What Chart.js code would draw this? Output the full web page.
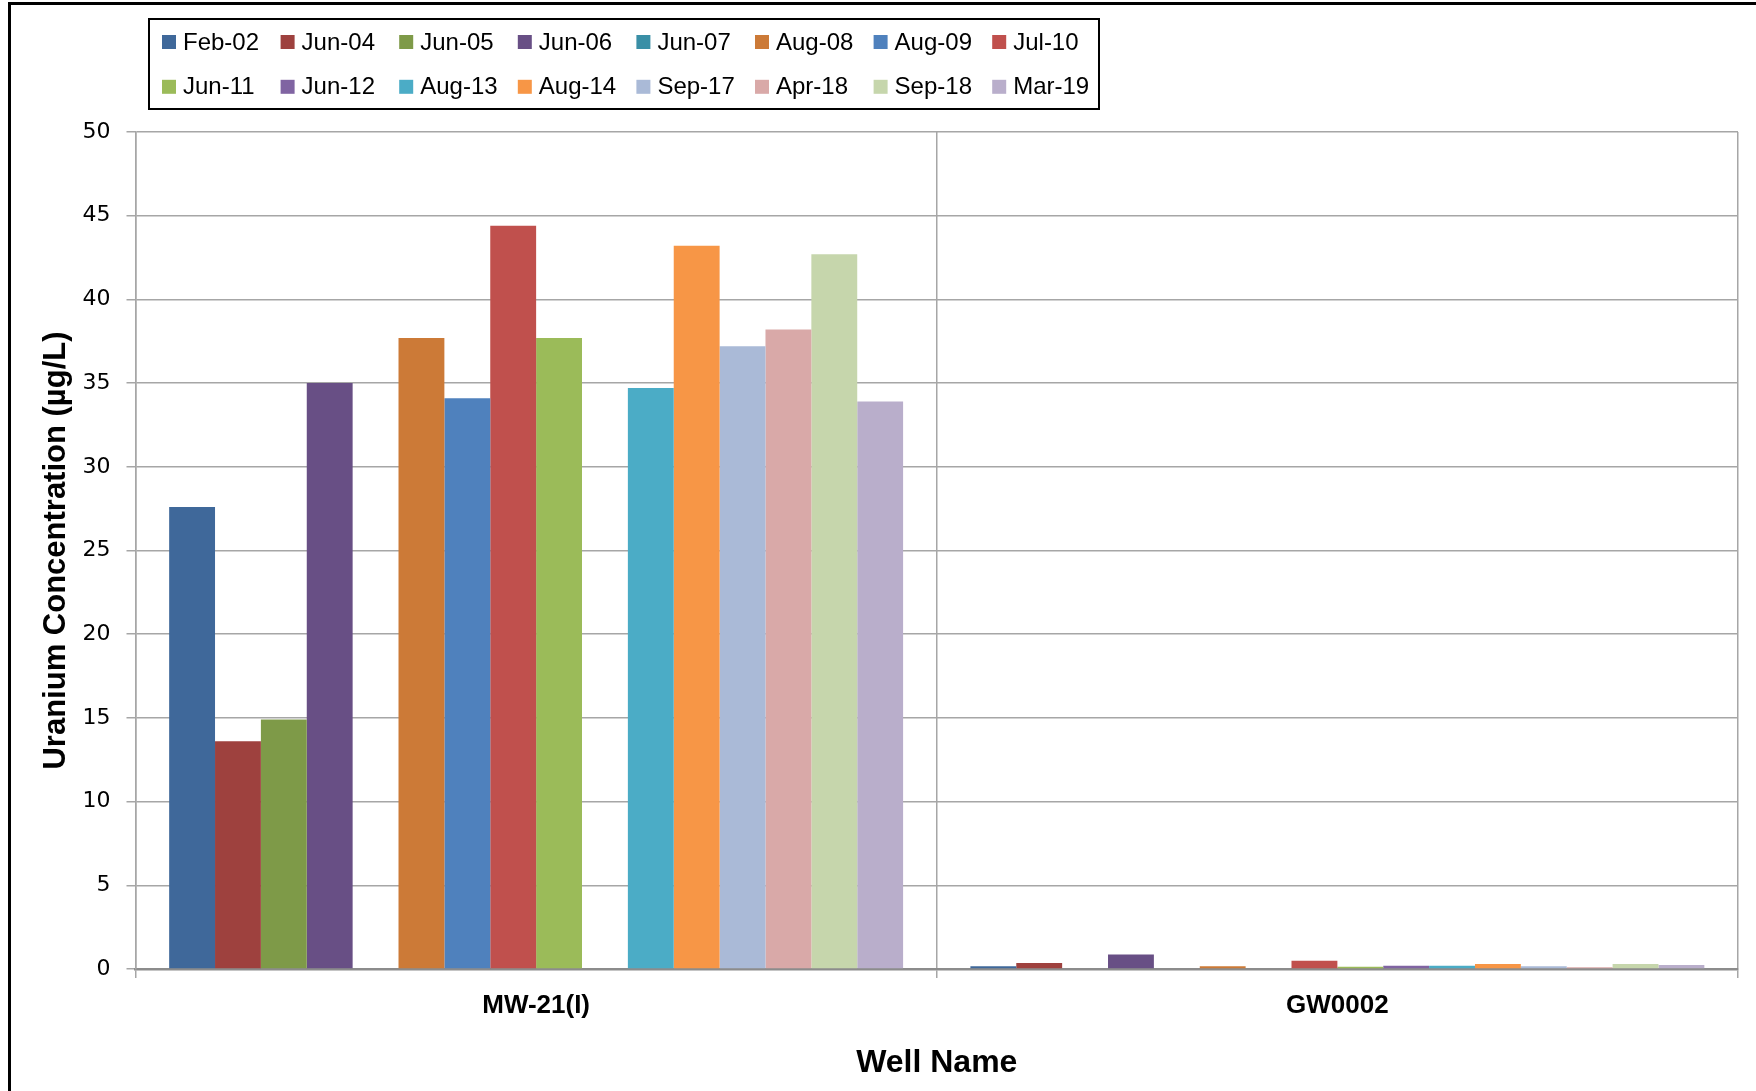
<!DOCTYPE html>
<html><head><meta charset="utf-8">
<script src="https://cdn.jsdelivr.net/npm/chart.js@4.4.1/dist/chart.umd.min.js"></script>
<style>html,body{margin:0;padding:0;background:#fff;overflow:hidden}#wrap{position:relative;width:1756px;height:1091px}</style>
</head><body><div id="wrap"><canvas id="c" width="1756" height="1091"></canvas></div>
<script>
// ---- data ----
const wells = ['MW-21(I)', 'GW0002'];
const sampleDates = ['Feb-02','Jun-04','Jun-05','Jun-06','Jun-07','Aug-08','Aug-09','Jul-10',
                     'Jun-11','Jun-12','Aug-13','Aug-14','Sep-17','Apr-18','Sep-18','Mar-19'];
const feb02 = [27.6, 0.16];
const jun04 = [13.6, 0.36];
const jun05 = [14.9, null];
const jun06 = [35.0, 0.86];
const jun07 = [null, null];
const aug08 = [37.7, 0.16];
const aug09 = [34.1, 0.05];
const jul10 = [44.4, 0.5];
const jun11 = [37.7, 0.14];
const jun12 = [null, 0.2];
const aug13 = [34.7, 0.2];
const aug14 = [43.2, 0.3];
const sep17 = [37.2, 0.16];
const apr18 = [38.2, 0.1];
const sep18 = [42.7, 0.3];
const mar19 = [33.9, 0.24];
const seriesValues = [feb02,jun04,jun05,jun06,jun07,aug08,aug09,jul10,jun11,jun12,aug13,aug14,sep17,apr18,sep18,mar19];
const seriesColors = ['#3F689A','#9E413E','#7E9A48','#684F85','#3A8FA6','#CC7A37','#4F81BD','#C0504D',
                      '#9BBB59','#8064A2','#4BACC6','#F79646','#AABAD7','#D9A9A8','#C6D6AC','#B9AECB'];
const yTicks = {min: 0, max: 50, step: 5};

const datasets = sampleDates.map((d, i) => ({
  label: d,
  data: seriesValues[i],
  backgroundColor: seriesColors[i],
  borderWidth: 0,
  categoryPercentage: 0.916,
  barPercentage: 1.0
}));

const boxLegend = {
  id: 'boxLegend',
  afterDraw(chart) {
    const ctx = chart.ctx;
    ctx.save();
    ctx.strokeStyle = '#000';
    ctx.lineWidth = 3;
    ctx.beginPath();
    ctx.moveTo(9.5, 1091); ctx.lineTo(9.5, 3.5); ctx.lineTo(1756, 3.5);
    ctx.stroke();
    ctx.lineWidth = 2;
    ctx.strokeRect(149, 19, 950, 90);
    ctx.font = '24px "Liberation Sans", Arial, sans-serif';
    ctx.textBaseline = 'middle';
    ctx.textAlign = 'left';
    chart.data.datasets.forEach((ds, i) => {
      const col = i % 8, row = Math.floor(i / 8);
      const x = 162 + col * 118.6, y = 42 + row * 44.8;
      ctx.fillStyle = ds.backgroundColor;
      ctx.fillRect(x, y - 7, 14, 14);
      ctx.fillStyle = '#000';
      ctx.fillText(ds.label, x + 21, y + 1);
    });
    ctx.restore();
  }
};

new Chart(document.getElementById('c'), {
  type: 'bar',
  data: { labels: wells, datasets },
  options: {
    responsive: false,
    devicePixelRatio: 1,
    animation: false,
    events: [],
    layout: { padding: { top: 132, right: 18, left: 0, bottom: 0 } },
    plugins: { legend: { display: false }, tooltip: { enabled: false } },
    scales: {
      x: {
        afterFit(s) { s.height = 122; },
        grid: { color: '#a6a6a6', lineWidth: 1.5, tickLength: 9, offset: true },
        border: { color: '#8c8c8c', width: 2.5 },
        ticks: { color: '#000', padding: 12, font: { family: '"Liberation Sans", Arial, sans-serif', size: 26, weight: 'bold' } },
        title: { display: true, text: 'Well Name', color: '#000', padding: { top: 0, bottom: 9 },
                 font: { family: '"Liberation Sans", Arial, sans-serif', size: 32, weight: 'bold' } }
      },
      y: {
        min: yTicks.min, max: yTicks.max,
        afterFit(s) { s.width = 135.5; },
        grid: { color: '#a6a6a6', lineWidth: 1.5, tickLength: 9 },
        border: { color: '#a6a6a6', width: 1.5 },
        ticks: { stepSize: yTicks.step, color: '#000', padding: 16, font: { family: '"DejaVu Sans", Verdana, sans-serif', size: 22 } },
        title: { display: true, text: 'Uranium Concentration (µg/L)', color: '#000', padding: { top: 38, bottom: 0 },
                 font: { family: '"Liberation Sans", Arial, sans-serif', size: 31, weight: 'bold' } }
      }
    }
  },
  plugins: [boxLegend]
});
</script></body></html>
